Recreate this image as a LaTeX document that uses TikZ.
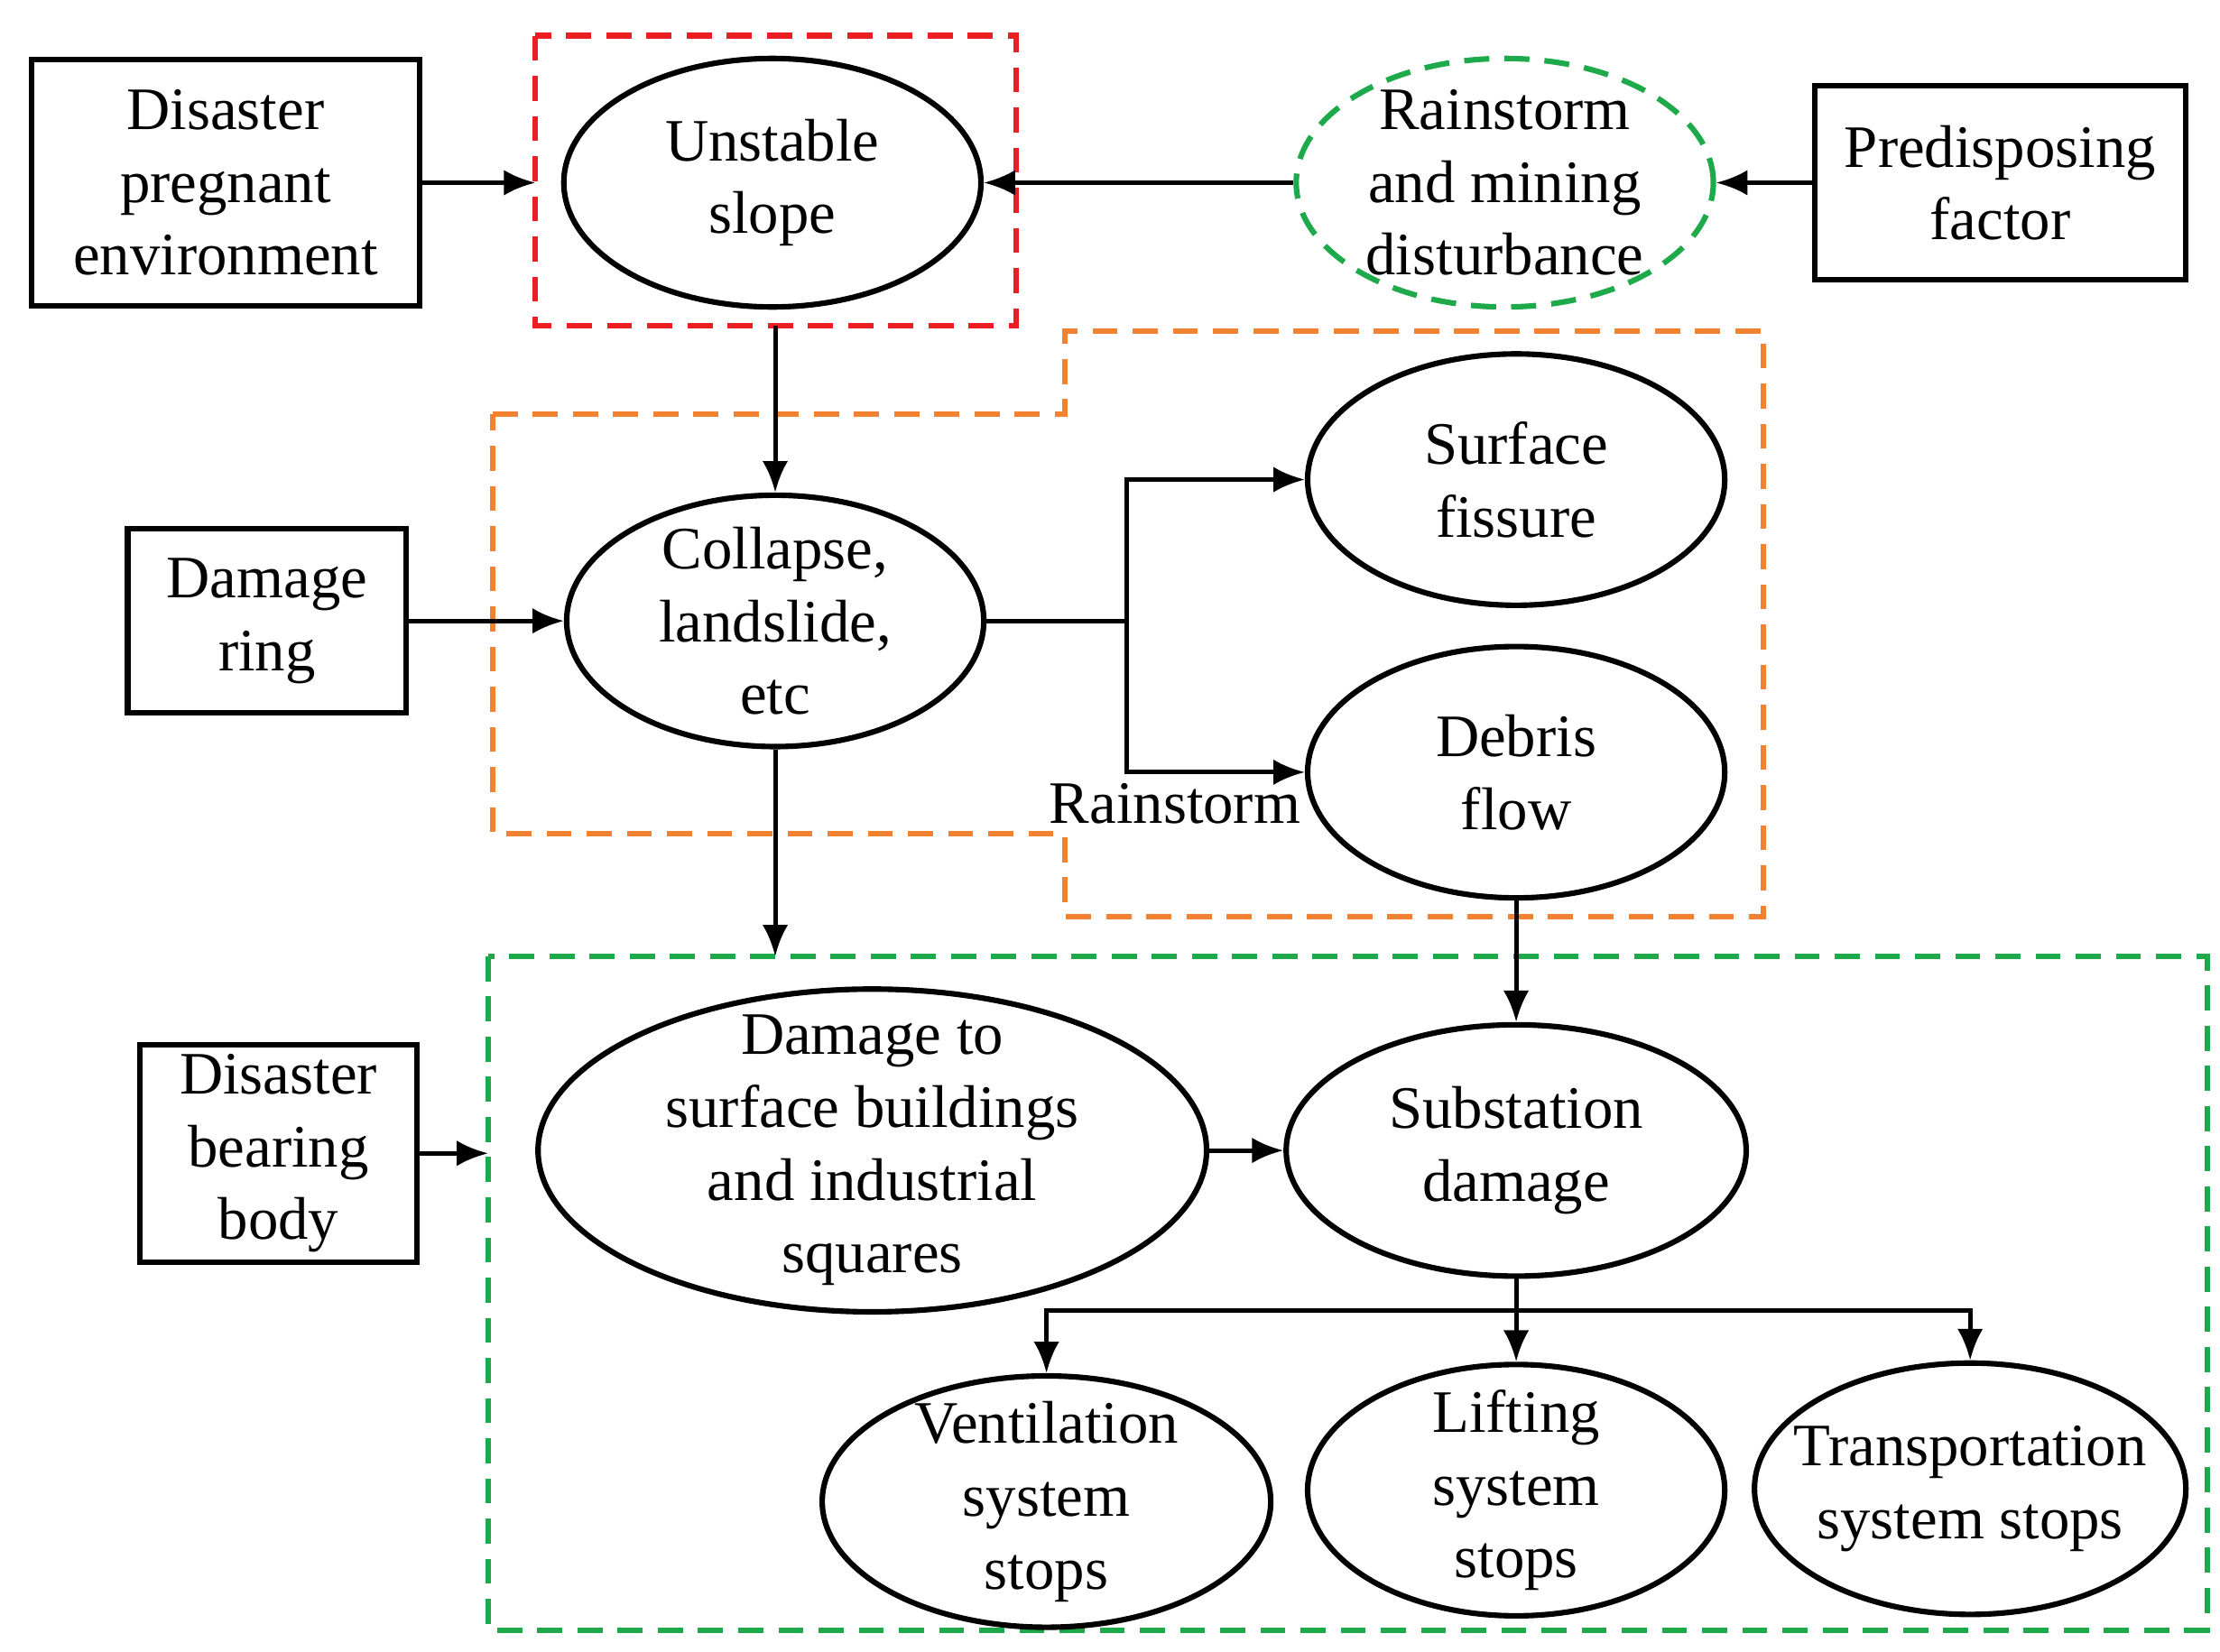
\documentclass[tikz,border=0pt]{standalone}
\usepackage{fontspec}
\setmainfont{Liberation Serif}
\usetikzlibrary{shapes.geometric,arrows.meta}
\tikzset{
  box/.style={draw,line width=1.1pt,align=center,inner sep=0pt},
  oval/.style={draw,ellipse,line width=1.1pt,align=center,inner sep=-12pt},
  conn/.style={line width=0.9pt,-{Latex[length=2.2mm,width=1.8mm]}},
  frame/.style={dashed,line width=1.1pt,dash pattern=on 5pt off 3pt}
}
\definecolor{fred}{RGB}{235,30,35}
\definecolor{fgreen}{RGB}{30,170,75}
\definecolor{forange}{RGB}{240,130,50}
\begin{document}
\begin{tikzpicture}[x=0.01cm,y=-0.01cm,font=\fontsize{12}{14.5}\selectfont]
\useasboundingbox (0,0) rectangle (1555,1157);
% frames
\draw[frame,fred] (375,25) rectangle (712,228);
\draw[frame,forange] (345,290) -- (746,290) -- (746,232) -- (1235,232) -- (1235,642) -- (746,642) -- (746,584) -- (345,584) -- cycle;
\draw[frame,fgreen] (342,670) rectangle (1546,1142);
\coordinate (redL) at (375,128);
\coordinate (redB) at (543,228);
\coordinate (grnT) at (541,670);
\coordinate (grnL) at (342,808);
% top row
\node[box,minimum width=2.72cm,minimum height=1.73cm] (env) at (158,128) {Disaster\\pregnant\\environment};
\node[oval,minimum width=2.92cm,minimum height=1.74cm] (slope) at (541,128) {Unstable\\slope};
\node[oval,draw=fgreen,frame,minimum width=2.92cm,minimum height=1.74cm] (rain) at (1054,128) {Rainstorm\\and mining\\disturbance};
\node[box,minimum width=2.6cm,minimum height=1.36cm] (factor) at (1401,128) {Predisposing\\factor};
% middle row
\node[box,minimum width=1.95cm,minimum height=1.29cm] (ring) at (187,435) {Damage\\ring};
\node[oval,minimum width=2.92cm,minimum height=1.76cm] (collapse) at (543,435) {Collapse,\\landslide,\\etc};
\node[oval,minimum width=2.92cm,minimum height=1.76cm] (fissure) at (1062,336) {Surface\\fissure};
\node[oval,minimum width=2.92cm,minimum height=1.76cm] (debris) at (1062,541) {Debris\\flow};
\node (rlabel) at (823,563) {Rainstorm};
\coordinate (split) at (789,435);
% bottom row
\node[box,minimum width=1.94cm,minimum height=1.52cm] (body) at (195,808) {Disaster\\bearing\\body};
\node[oval,minimum width=4.68cm,minimum height=2.26cm] (build) at (611,806) {Damage to\\surface buildings\\and industrial\\squares};
\node[oval,minimum width=3.22cm,minimum height=1.76cm] (subst) at (1062,806) {Substation\\damage};
\node[oval,minimum width=3.14cm,minimum height=1.76cm] (vent) at (733,1052) {Ventilation\\system\\stops};
\node[oval,minimum width=2.92cm,minimum height=1.76cm] (lift) at (1062,1044) {Lifting\\system\\stops};
\node[oval,minimum width=3.02cm,minimum height=1.76cm] (trans) at (1380,1043) {Transportation\\system stops};
\coordinate (bus) at (1062,918);
% connectors
\draw[conn] (env) -- (redL);
\draw[conn] (rain) -- (slope);
\draw[conn] (factor) -- (rain);
\draw[conn] (redB) -- (collapse);
\draw[conn] (ring) -- (collapse);
\draw[line width=0.9pt] (collapse.east) -- (split);
\draw[conn] (split) |- (fissure.west);
\draw[conn] (split) |- (debris.west);
\draw[conn] (collapse.south) -- (collapse.south |- grnT);
\draw[conn] (debris.south) -- (subst.north);
\draw[conn] (body) -- (grnL);
\draw[conn] (build) -- (subst);
\draw[line width=0.9pt] (subst.south) -- (bus);
\draw[conn] (bus) -| (vent.north);
\draw[conn] (bus) -- (lift.north);
\draw[conn] (bus) -| (trans.north);
\end{tikzpicture}
\end{document}
